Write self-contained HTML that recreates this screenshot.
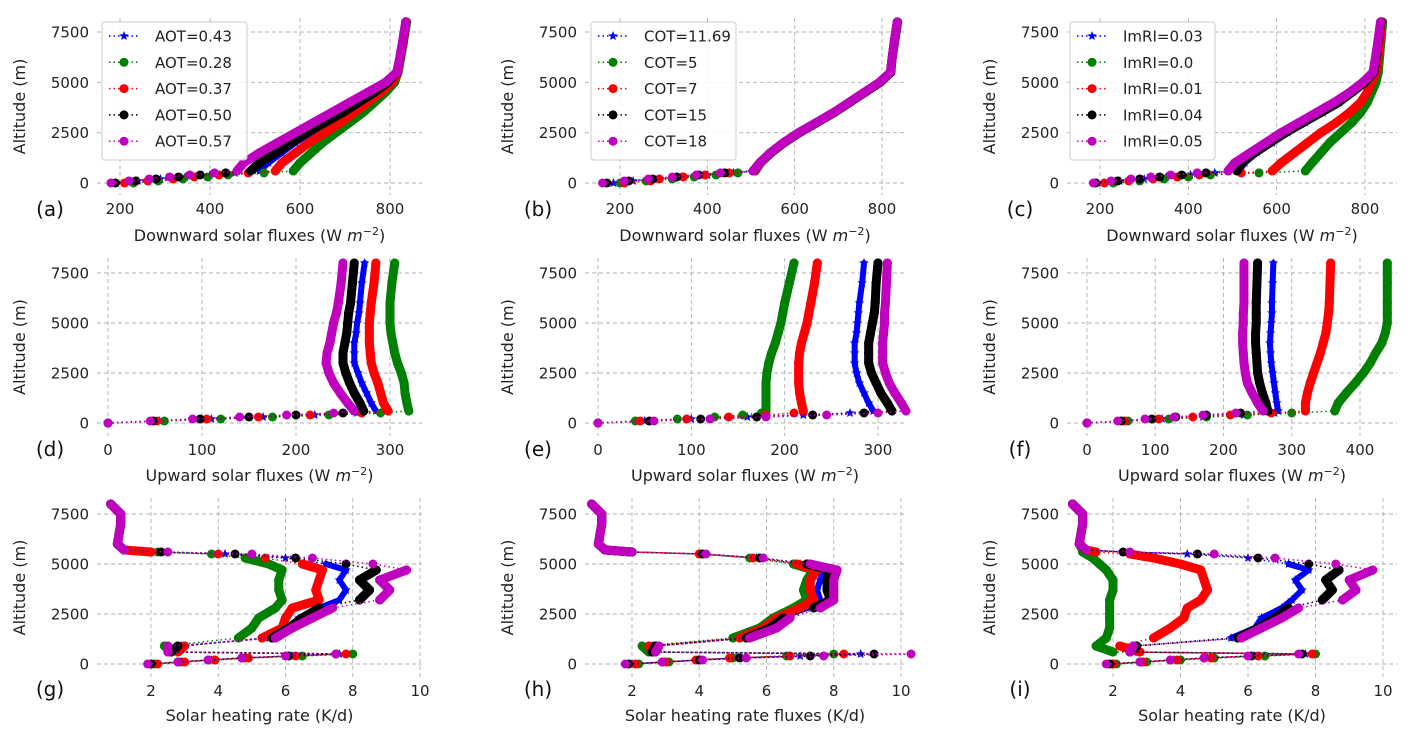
<!DOCTYPE html>
<html><head><meta charset="utf-8"><style>
body{margin:0;background:#fff;}
svg{display:block;font-family:"DejaVu Sans","Liberation Sans",sans-serif;}
</style></head><body>
<svg id="fig" width="1420" height="738" viewBox="0 0 1420 738"></svg>
<script>
// ---- data ----
const altFlux = [0,100,200,300,400,500,600,1000,1500,2000,2500,3000,3500,4000,4500,5000,5500,6000,7000,8000];
const altHeat = [0,100,200,300,400,500,600,900,1300,1800,2300,2800,3200,3700,4200,4700,5000,5300,5500,5600,5700,6000,7000,7500,8000];
const seriesColors = ["#0000ff","#008000","#ff0000","#000000","#bf00bf"];
const labelsA = ["AOT=0.43","AOT=0.28","AOT=0.37","AOT=0.50","AOT=0.57"];
const labelsB = ["COT=11.69","COT=5","COT=7","COT=15","COT=18"];
const labelsC = ["ImRI=0.03","ImRI=0.0","ImRI=0.01","ImRI=0.04","ImRI=0.05"];
const fluxTicks = [200,400,600,800];
const upTicksDE = [0,100,200,300];
const upTicksF = [0,100,200,300,400];
const heatTicks = [2,4,6,8,10];
const altTicks = [0,2500,5000,7500];
// panel a
const aBlue = [190,240,290,345,400,455,510,530,560,590,625,660,695,730,765,795,815,820,828,835];
const aGreen = [230,285,340,395,440,520,585,600,625,650,680,710,740,765,790,810,818,822,830,837];
const aRed = [210,262,318,365,420,485,545,560,590,620,655,690,720,750,780,805,817,821,829,836];
const aBlack = [190,235,280,330,378,435,490,510,545,580,615,655,695,730,765,795,815,820,828,835];
const aMag = [180,220,265,310,355,410,460,475,510,550,590,630,670,710,750,790,815,820,828,835];
// panel b
const bBlue = [185,230,290,340,400,460,505,520,545,575,610,650,690,725,760,795,820,822,828,835];
const bGreen = [200,260,320,370,420,470,510,522,546,576,611,651,691,726,761,796,820,822,829,836];
const bRed = [210,270,290,345,395,450,508,521,545,575,610,650,690,725,760,795,820,822,828,835];
const bBlack = [170,220,275,330,380,440,505,520,545,575,610,650,690,725,760,795,820,822,828,835];
const bMag = [160,210,265,320,375,430,505,520,544,574,609,649,689,724,759,794,819,822,828,835];
// panel c
const cBlue = [195,245,300,350,405,460,515,528,555,590,625,665,705,742,772,800,820,824,830,836];
const cGreen = [230,290,345,400,450,560,665,680,700,720,745,770,790,805,815,825,830,832,836,840];
const cRed = [210,265,320,375,425,520,590,610,640,670,700,735,765,790,805,815,825,828,834,838];
const cBlack = [190,240,290,335,385,440,510,520,550,585,620,660,700,740,770,800,820,824,830,836];
const cMag = [185,225,270,315,360,420,490,505,540,575,610,650,690,730,765,795,818,822,829,835];
// panel d
const dBlue = [0,55,110,165,220,265,285,280,275,270,266,262,262,262,264,265,267,268,270,273];
const dGreen = [0,60,120,175,235,290,320,318,316,315,312,308,305,303,301,300,300,300,302,305];
const dRed = [0,52,105,160,215,270,298,293,290,287,283,280,279,278,278,278,279,280,283,285];
const dBlack = [0,48,98,150,200,250,272,268,262,257,253,250,250,252,254,255,256,258,260,262];
const dMag = [0,45,90,140,190,240,262,255,247,240,235,232,233,236,238,240,243,245,248,250];
// panel e
const eBlue = [0,50,100,160,220,270,295,290,285,280,277,275,275,275,277,278,279,280,283,285];
const eGreen = [0,40,85,125,155,175,180,180,180,180,181,183,186,190,193,196,198,200,205,210];
const eRed = [0,45,95,140,180,210,220,218,216,215,215,215,216,218,221,224,226,228,232,235];
const eBlack = [0,55,110,170,230,285,315,310,303,298,293,290,290,290,292,294,296,297,298,300];
const eMag = [0,60,120,180,245,300,330,325,318,312,308,305,305,305,306,307,307,308,309,310];
// panel f
const fBlue = [0,55,110,170,230,275,280,278,276,274,272,270,269,268,269,270,271,271,272,273];
const fGreen = [0,60,120,175,235,300,363,368,380,393,405,415,423,432,437,440,440,440,440,440];
const fRed = [0,55,105,155,210,270,320,320,323,327,332,337,342,346,350,352,354,355,356,357];
const fBlack = [0,50,95,130,175,225,265,262,257,253,250,249,248,247,247,248,248,248,249,250];
const fMag = [0,45,85,128,170,218,258,250,242,235,232,230,229,228,228,229,229,230,230,230];
// panel g
const gBlue = [2.1,2.9,3.8,4.8,6.2,7.6,2.7,2.9,5.4,6.2,6.4,7.0,7.6,7.8,7.6,7.8,7.2,6.0,4.2,2.3,1.2,1.0,1.1,1.1,0.8];
const gGreen = [2.1,2.9,3.9,4.8,6.5,8.0,2.6,2.4,4.6,5.0,5.2,5.7,5.9,5.8,5.8,5.9,5.5,4.8,3.8,2.2,1.2,1.0,1.1,1.1,0.8];
const gRed = [2.2,3.0,3.9,4.9,6.3,7.8,2.8,3.0,5.3,5.9,6.0,6.2,7.0,6.9,7.0,7.1,6.5,5.4,4.0,2.0,1.2,1.0,1.1,1.1,0.8];
const gBlack = [2.0,2.8,3.7,4.7,6.1,7.5,2.6,2.8,5.6,6.1,6.5,7.0,8.2,8.5,8.2,8.7,7.8,6.3,4.5,2.3,1.2,1.0,1.1,1.1,0.8];
const gMag = [1.9,2.8,3.7,4.7,6.0,7.5,2.5,2.5,5.7,6.2,6.8,7.4,8.8,9.1,8.8,9.6,8.6,6.8,5.0,2.5,1.2,1.0,1.1,1.1,0.8];
// panel h
const hBlue = [2.0,3.0,4.0,5.1,7.0,8.8,2.6,2.6,5.3,6.0,6.4,7.2,7.6,7.5,7.6,7.7,7.0,5.7,4.1,2.0,1.2,1.0,1.1,1.1,0.8];
const hGreen = [2.2,3.1,4.0,5.0,6.6,8.0,2.5,2.3,5.0,5.8,6.2,6.8,7.2,7.1,7.2,7.4,6.8,5.5,4.0,2.0,1.2,1.0,1.1,1.1,0.8];
const hRed = [2.1,3.0,3.9,4.9,6.7,8.3,2.6,2.5,5.2,5.9,6.3,7.0,7.4,7.3,7.3,7.5,6.9,5.6,4.0,2.0,1.2,1.0,1.1,1.1,0.8];
const hBlack = [1.9,2.9,4.0,5.2,7.3,9.2,2.6,2.7,5.4,6.1,6.5,7.4,7.9,7.8,7.8,7.9,7.2,5.8,4.1,2.0,1.2,1.0,1.1,1.1,0.8];
const hMag = [1.8,2.9,4.1,5.4,7.7,10.3,2.7,2.8,5.5,6.3,6.7,7.6,8.0,8.0,8.0,8.1,7.3,5.9,4.2,2.0,1.2,1.0,1.1,1.1,0.8];
// panel i
const iBlue = [2.0,2.9,3.8,4.8,6.2,7.7,2.6,2.6,5.5,6.2,6.4,7.0,7.3,7.6,7.4,7.8,7.2,6.0,4.2,2.3,1.2,1.0,1.1,1.1,0.8];
const iGreen = [2.1,3.0,4.0,5.0,6.5,8.0,2.0,1.5,1.8,1.9,1.9,1.9,1.9,2.0,2.0,1.8,1.6,1.4,1.2,1.1,1.1,1.0,1.1,1.1,0.8];
const iRed = [2.0,2.9,3.9,4.9,6.3,7.9,2.8,2.2,3.2,3.7,4.1,4.2,4.6,4.8,4.7,4.6,4.0,3.2,2.5,1.5,1.2,1.0,1.1,1.1,0.8];
const iBlack = [1.9,2.8,3.7,4.7,6.1,7.6,2.5,2.7,5.7,6.3,6.8,7.2,8.2,8.5,8.3,8.7,7.8,6.3,4.5,2.3,1.2,1.0,1.1,1.1,0.8];
const iMag = [1.8,2.8,3.7,4.7,6.0,7.5,2.5,2.6,5.8,6.4,7.0,7.5,8.8,9.2,9.0,9.7,8.6,6.8,5.0,2.5,1.2,1.0,1.1,1.1,0.8];

const NS="http://www.w3.org/2000/svg";
const svg=document.getElementById('fig');
function mk(tag,attrs,parent){const e=document.createElementNS(NS,tag);for(const k in attrs)e.setAttribute(k,attrs[k]);(parent||svg).appendChild(e);return e;}

const colX=[{l:97,r:422},{l:585,r:905},{l:1067,r:1397}];
const rowY=[{t:18,b:195,y0:183,y75:32,lab:241,let:216},{t:258,b:436,y0:423,y75:273,lab:481,let:456},{t:498,b:677,y0:664,y75:514,lab:721,let:696}];

const panels=[
 {id:'a',c:0,r:0,v0:200,p0:120,v1:800,p1:390,ticks:fluxTicks,alt:altFlux,data:[aBlue,aGreen,aRed,aBlack,aMag],leg:labelsA,xl:'Downward solar fluxes',unit:true},
 {id:'b',c:1,r:0,v0:200,p0:620,v1:800,p1:882,ticks:fluxTicks,alt:altFlux,data:[bBlue,bGreen,bRed,bBlack,bMag],leg:labelsB,xl:'Downward solar fluxes',unit:true},
 {id:'c',c:2,r:0,v0:200,p0:1100,v1:800,p1:1365,ticks:fluxTicks,alt:altFlux,data:[cBlue,cGreen,cRed,cBlack,cMag],leg:labelsC,xl:'Downward solar fluxes',unit:true},
 {id:'d',c:0,r:1,v0:0,p0:108,v1:300,p1:390,ticks:upTicksDE,alt:altFlux,data:[dBlue,dGreen,dRed,dBlack,dMag],xl:'Upward solar fluxes',unit:true},
 {id:'e',c:1,r:1,v0:0,p0:598,v1:300,p1:878,ticks:upTicksDE,alt:altFlux,data:[eBlue,eGreen,eRed,eBlack,eMag],xl:'Upward solar fluxes',unit:true},
 {id:'f',c:2,r:1,v0:0,p0:1087,v1:400,p1:1360,ticks:upTicksF,alt:altFlux,data:[fBlue,fGreen,fRed,fBlack,fMag],xl:'Upward solar fluxes',unit:true},
 {id:'g',c:0,r:2,v0:2,p0:151,v1:10,p1:420,ticks:heatTicks,alt:altHeat,data:[gBlue,gGreen,gRed,gBlack,gMag],xl:'Solar heating rate (K/d)'},
 {id:'h',c:1,r:2,v0:2,p0:632,v1:10,p1:901,ticks:heatTicks,alt:altHeat,data:[hBlue,hGreen,hRed,hBlack,hMag],xl:'Solar heating rate fluxes (K/d)'},
 {id:'i',c:2,r:2,v0:2,p0:1113,v1:10,p1:1383,ticks:heatTicks,alt:altHeat,data:[iBlue,iGreen,iRed,iBlack,iMag],xl:'Solar heating rate (K/d)'}
];

function star(g,x,y,r,color){
  let pts=[];for(let k=0;k<10;k++){const a=-Math.PI/2+k*Math.PI/5;const rr=k%2?r*0.45:r;pts.push((x+rr*Math.cos(a)).toFixed(1)+','+(y+rr*Math.sin(a)).toFixed(1));}
  const s=mk('polygon',{points:pts.join(' '),fill:color},g);
  
  
}

panels.forEach(p=>{
  const C=colX[p.c],R=rowY[p.r];
  const X=v=>p.p0+(v-p.v0)*(p.p1-p.p0)/(p.v1-p.v0);
  const Y=a=>R.y0+(a)*(R.y75-R.y0)/7500;
  const g=mk('g',{});
  
  
  p.ticks.forEach(t=>{
    const x=X(t);
    const l=mk('line',{x1:x,x2:x,y1:R.t,y2:R.b,stroke:'#b0b0b0','stroke-dasharray':'4,3','stroke-width':0.9},g);
    
    
    const tx=mk('text',{x:x,y:R.b+19,'text-anchor':'middle','font-size':15,fill:'#222'},g);
    tx.textContent=t;
    
    
  });
  altTicks.forEach(t=>{
    const y=Y(t);
    const l=mk('line',{x1:C.l,x2:C.r,y1:y,y2:y,stroke:'#b0b0b0','stroke-dasharray':'4,3','stroke-width':0.9},g);
    
    
    const tx=mk('text',{x:C.l-8,y:y+5.5,'text-anchor':'end','font-size':15,fill:'#222'},g);
    tx.textContent=t;
    
    
  });
  const yt=mk('text',{x:0,y:0,transform:`translate(${C.l-72},${(R.t+R.b)/2}) rotate(-90)`,'text-anchor':'middle','font-size':16,fill:'#222'},g);
  yt.textContent='Altitude (m)';
  
  
  const xt=mk('text',{x:(C.l+C.r)/2,y:R.lab,'text-anchor':'middle','font-size':16,fill:'#222'},g);
  if(p.unit){xt.innerHTML=p.xl+' (W<tspan font-style="italic"> m</tspan><tspan dy="-6" font-size="11">−2</tspan><tspan dy="6">)</tspan>';}
  else xt.textContent=p.xl;
  
  
  const lt=mk('text',{x:C.l-47,y:R.let,'text-anchor':'middle','font-size':20,fill:'#111'},g);
  lt.textContent='('+p.id+')';
  
  
  p.data.forEach((vals,si)=>{
    const col=seriesColors[si];
    const sg=mk('g',{},g);
    
    
    const pts=vals.map((v,k)=>[X(v),Y(p.alt[k])]);
    const dl=mk('polyline',{points:pts.map(q=>q.join(',')).join(' '),fill:'none',stroke:col,'stroke-width':1.5,'stroke-dasharray':'1.5,3'},sg);
    
    
    for(let k=6;k<pts.length-1;k++){
      if(Math.abs(pts[k+1][0]-pts[k][0])<30){
        const s=mk('line',{x1:pts[k][0],y1:pts[k][1],x2:pts[k+1][0],y2:pts[k+1][1],stroke:col,'stroke-width':si===0?6:9,'stroke-linecap':'round'},sg);
        
        
      }
    }
    pts.forEach(q=>{
      if(si===0){star(sg,q[0],q[1],5,col);}
      else{const c=mk('circle',{cx:q[0],cy:q[1],r:4.5,fill:col},sg);
        
        }
    });
  });
  if(p.leg){
    const lx=C.l+5+(p.c===1?1:p.c===2?-2:0), ly=22;
    const lg=mk('g',{},g);
    
    
    const bx=mk('rect',{x:lx,y:ly,width:145,height:138,rx:3,fill:'#fff','fill-opacity':0.85,stroke:'#ccc'},lg);
    
    
    p.leg.forEach((lab,si)=>{
      const y=ly+14+si*26.3;const col=seriesColors[si];
      const e=mk('g',{},lg);
      
      
      mk('line',{x1:lx+7,x2:lx+38,y1:y,y2:y,stroke:col,'stroke-width':1.5,'stroke-dasharray':'1.5,3'},e);
      if(si===0)star(e,lx+22,y,5,col);else mk('circle',{cx:lx+22,cy:y,r:4.5,fill:col},e);
      const t=mk('text',{x:lx+53,y:y+5.5,'font-size':15,fill:'#222'},e);
      t.textContent=lab;
    });
  }
});
</script>
</body></html>
